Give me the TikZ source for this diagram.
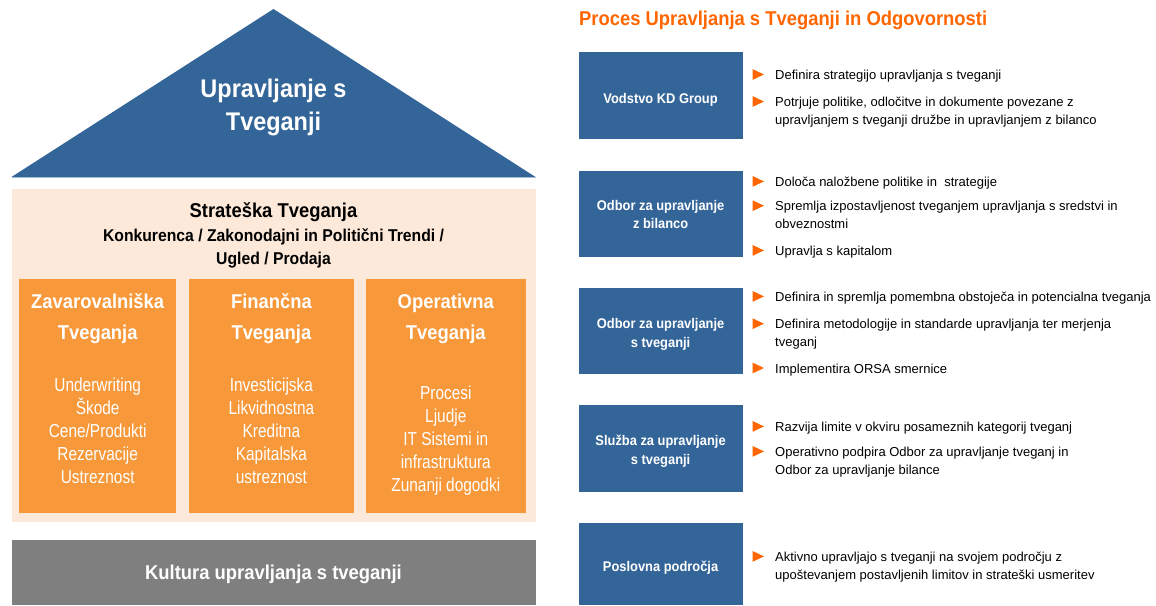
\documentclass[tikz,border=0pt]{standalone}
\usepackage{fontspec}
\setmainfont{Liberation Sans}
\newfontfamily\condfont{Liberation Sans}[FakeStretch=0.92]
\newfontfamily\narrowfont{Liberation Sans}[FakeStretch=0.82]
\usepackage{tikz}
\usetikzlibrary{positioning,shapes.geometric}
\definecolor{roofblue}{RGB}{52,101,153}
\definecolor{peach}{RGB}{253,233,217}
\definecolor{pillarorange}{RGB}{247,152,58}
\definecolor{basegray}{RGB}{127,127,127}
\definecolor{procorange}{RGB}{255,102,0}
% note: the base anchor of a multi-line node sits on its last line
\tikzstyle{pillar}=[%
      rectangle, fill=pillarorange, minimum height=234pt, inner sep=0pt
]
\tikzstyle{pillarhead}=[%
      anchor=base, text=white, font=\condfont\bfseries\fontsize{20}{31}\selectfont,
      align=center, inner sep=0pt
]
\tikzstyle{pillaritem}=[%
      anchor=base, text=white, font=\narrowfont\fontsize{18.8}{23}\selectfont,
      align=center, inner sep=0pt
]
\tikzstyle{org}=[%
      rectangle, fill=roofblue, minimum width=164pt, inner sep=0pt
]
\tikzstyle{orgtext}=[%
      anchor=base, text=white, font=\condfont\bfseries\fontsize{14}{18.5}\selectfont,
      align=center, inner sep=0pt
]
\tikzstyle{duty}=[%
      anchor=base west, font=\fontsize{13}{18}\selectfont, align=left, inner sep=0pt
]
\tikzstyle{tip}=[%
      isosceles triangle, isosceles triangle stretches, fill=procorange,
      minimum width=10.7pt, minimum height=11.3pt, inner sep=0pt, yshift=5pt
]

\begin{document}
\begin{tikzpicture}[x=1pt, y=-1pt]
    \useasboundingbox (0,0) rectangle (1156,605);

    % the house
    \fill[roofblue] (273.5,9) -- (535.5,177) -- (11.5,177) -- cycle;
    \draw[roofblue!45!white, line width=0.8pt] (11.5,177) -- (535.5,177);
    \node[anchor=base, text=white, font=\condfont\bfseries\fontsize{25.5}{33}\selectfont,
          align=center, inner sep=0pt] (roof) at (273.5,130) {Upravljanje s\\Tveganji};

    \fill[peach] (11.5,189) rectangle (536,522);
    \node[anchor=base, font=\condfont\bfseries\fontsize{20}{24}\selectfont, inner sep=0pt]
          (strat) at (273.5,217) {Strateška Tveganja};
    \node[anchor=base, font=\condfont\bfseries\fontsize{17.1}{23}\selectfont, align=center,
          inner sep=0pt] (stratsub) at (273.5,264)
          {Konkurenca / Zakonodajni in Politični Trendi /\\Ugled / Prodaja};

    \node[pillar, minimum width=157.4pt] (p1) at (97.7,396) {};
    \node[pillar, minimum width=164.2pt] (p2) at (271.4,396) {};
    \node[pillar, minimum width=160.4pt] (p3) at (445.8,396) {};

    \node[pillarhead] (h1) at (p1.center |- 0,339) {Zavarovalniška\\Tveganja};
    \node[pillarhead] (h2) at (p2.center |- 0,339) {Finančna\\Tveganja};
    \node[pillarhead] (h3) at (p3.center |- 0,339) {Operativna\\Tveganja};

    \node[pillaritem] (i1) at (p1.center |- 0,483)
          {Underwriting\\Škode\\Cene/Produkti\\Rezervacije\\Ustreznost};
    \node[pillaritem] (i2) at (p2.center |- 0,483)
          {Investicijska\\Likvidnostna\\Kreditna\\Kapitalska\\ustreznost};
    \node[pillaritem] (i3) at (p3.center |- 0,491)
          {Procesi\\Ljudje\\IT Sistemi in\\infrastruktura\\Zunanji dogodki};

    \fill[basegray] (11.5,540) rectangle (536,605);
    \node[anchor=base, text=white, font=\condfont\bfseries\fontsize{20}{24}\selectfont,
          inner sep=0pt] (culture) at (273.5,579) {Kultura upravljanja s tveganji};

    % process and responsibilities
    \node[anchor=base west, text=procorange, font=\condfont\bfseries\fontsize{20}{24}\selectfont,
          inner sep=0pt] (title) at (579,25) {Proces Upravljanja s Tveganji in Odgovornosti};

    \node[org, minimum height=87pt] (o1) at (660.6,95.8) {};
    \node[org, minimum height=86pt] (o2) at (660.6,213.7) {};
    \node[org, minimum height=86.3pt] (o3) at (660.6,330.8) {};
    \node[org, minimum height=86.7pt] (o4) at (660.6,448.3) {};
    \node[org, minimum height=82.3pt] (o5) at (660.6,563.8) {};

    \node[orgtext] (l1) at (o1.center |- 0,103) {Vodstvo KD Group};
    \node[orgtext] (l2) at (o2.center |- 0,228.5) {Odbor za upravljanje\\z bilanco};
    \node[orgtext] (l3) at (o3.center |- 0,347) {Odbor za upravljanje\\s tveganji};
    \node[orgtext] (l4) at (o4.center |- 0,464) {Služba za upravljanje\\s tveganji};
    \node[orgtext] (l5) at (o5.center |- 0,571.7) {Poslovna področja};

    \node[duty] (d11) at (775,79.5) {Definira strategijo upravljanja s tveganji};
    \node[duty] (d12) at (775,124.5) {Potrjuje politike, odločitve in dokumente povezane z\\upravljanjem s tveganji družbe in upravljanjem z bilanco};
    \node[duty] (d21) at (775,186.4) {Določa naložbene politike in\ \ strategije};
    \node[duty] (d22) at (775,228.7) {Spremlja izpostavljenost tveganjem upravljanja s sredstvi in\\obveznostmi};
    \node[duty] (d23) at (775,255.4) {Upravlja s kapitalom};
    \node[duty] (d31) at (775,301.4) {Definira in spremlja pomembna obstoječa in potencialna tveganja};
    \node[duty] (d32) at (775,346.7) {Definira metodologije in standarde upravljanja ter merjenja\\tveganj};
    \node[duty] (d33) at (775,373) {Implementira ORSA smernice};
    \node[duty] (d41) at (775,431.4) {Razvija limite v okviru posameznih kategorij tveganj};
    \node[duty] (d42) at (775,474.4) {Operativno podpira Odbor za upravljanje tveganj in\\Odbor za upravljanje bilance};
    \node[duty] (d51) at (775,579.4) {Aktivno upravljajo s tveganji na svojem področju z\\upoštevanjem postavljenih limitov in strateški usmeritev};

    \foreach \d/\n in {d11/1,d12/2,d21/1,d22/2,d23/1,d31/1,d32/2,d33/1,d41/1,d42/2,d51/2}
        \node[tip, left=10.5pt of \d.base west, yshift={(\n-1)*18pt}] (t-\d) {};
\end{tikzpicture}
\end{document}
